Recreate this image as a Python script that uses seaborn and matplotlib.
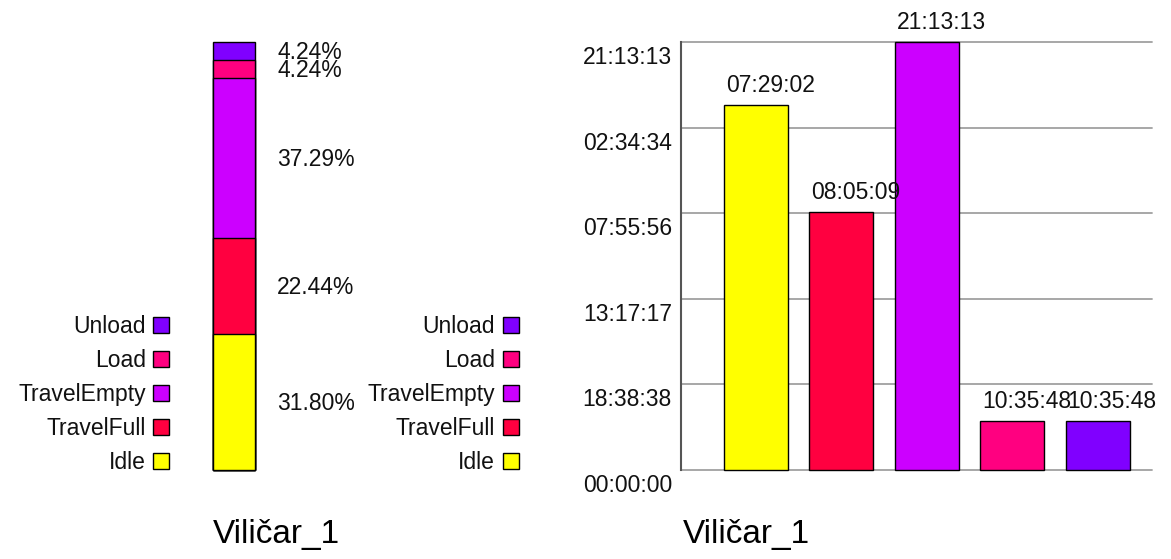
import numpy as np
import pandas as pd
import matplotlib
matplotlib.use("Agg")
import matplotlib.pyplot as plt
import matplotlib.transforms as mtransforms
from matplotlib.patches import Rectangle
import seaborn as sns

# ---- data ----
categories = ["Idle", "TravelFull", "TravelEmpty", "Load", "Unload"]
durations_s = [286142, 201909, 335593, 38148, 38148]   # seconds
colors = ["#FFFF00", "#FF0040", "#CC00FF", "#FF0080", "#8000FF"]
ytick_labels = ["00:00:00", "18:38:38", "13:17:17", "07:55:56", "02:34:34", "21:13:13"]
title = "Viličar_1"

sns.set_theme(style="white")
plt.rcParams["font.family"] = ["Liberation Sans", "DejaVu Sans"]

W, H = 1171, 559
fig = plt.figure(figsize=(W / 100, H / 100), dpi=100)
FS = 16.5


def fx(px):
    return px / W


def fy(py):
    return 1 - py / H


def hms(sec):
    s = int(round(sec)) % 86400
    return f"{s // 3600:02d}:{(s % 3600) // 60:02d}:{s % 60:02d}"


total = sum(durations_s)
pcts = [100 * d / total for d in durations_s]

# ---- left stacked bar ----
axL = fig.add_axes([fx(213), fy(470), fx(255) - fx(213), (470 - 42) / H])
cum = np.cumsum(pcts)
for i in range(len(categories) - 1, -1, -1):
    sns.barplot(x=[title], y=[cum[i]], color=colors[i], saturation=1, width=1,
                edgecolor="black", linewidth=1.0, ax=axL)
for p in axL.patches:
    p.set_clip_on(False)
axL.set_xlim(-0.5, 0.5)
axL.set_ylim(0, cum[-1])
axL.axis("off")

blend = mtransforms.blended_transform_factory(fig.transFigure, axL.transData)
bottoms = np.concatenate([[0], cum[:-1]])
for i, p in enumerate(pcts):
    mid = bottoms[i] + p / 2
    axL.annotate(f"{p:.2f}%", xy=(fx(277), mid), xycoords=blend,
                 xytext=(0, -8), textcoords="offset pixels",
                 ha="left", va="baseline", fontsize=FS, color="#111111",
                 annotation_clip=False)

# ---- right bar chart ----
axR = fig.add_axes([fx(681), fy(470), fx(1152) - fx(681), (470 - 42) / H])
df = pd.DataFrame({"cat": categories, "sec": durations_s})
sns.barplot(data=df, x="cat", y="sec", hue="cat", palette=colors, saturation=1,
            width=0.75, edgecolor="black", linewidth=1.0, legend=False, ax=axR)
for p in axR.patches:
    p.set_clip_on(False)
ymax = max(durations_s)
axR.set_ylim(0, ymax)
axR.set_xlim(-0.877, 4.637)
axR.set_yticks(np.linspace(0, ymax, len(ytick_labels)))
axR.set_yticklabels(ytick_labels, fontsize=FS, color="#111111", va="top")
axR.tick_params(axis="y", length=0, pad=6.5)
axR.set_xticks([])
axR.set_xlabel("")
axR.set_ylabel("")
axR.yaxis.grid(True, color="#a0a0a0", linewidth=1.3)
for gl in axR.get_ygridlines():
    gl.set_clip_on(False)
axR.set_axisbelow(True)
for s in ["top", "right", "bottom"]:
    axR.spines[s].set_visible(False)
axR.spines["left"].set_color("#555555")
axR.spines["left"].set_linewidth(1.5)
for lab in axR.get_yticklabels():
    lab.set_transform(lab.get_transform() + mtransforms.Affine2D().translate(0, -4))

for i, d in enumerate(durations_s):
    axR.annotate(hms(d), xy=(i - 0.375, d), xytext=(2, 13), textcoords="offset pixels",
                 ha="left", va="baseline", fontsize=FS, color="#111111",
                 annotation_clip=False)

# ---- legends (two copies) ----
leg_y = {"Unload": 325, "Load": 359, "TravelEmpty": 393, "TravelFull": 427, "Idle": 461}
for text_right, sq_left in [(146, 153), (495, 503)]:
    for cat, col in zip(categories, colors):
        yc = leg_y[cat]
        fig.patches.append(Rectangle((fx(sq_left), fy(yc + 8)), 16 / W, 16 / H,
                                     transform=fig.transFigure, facecolor=col,
                                     edgecolor="black", linewidth=1.0))
        fig.text(fx(text_right), fy(yc + 8), cat, ha="right", va="baseline",
                 fontsize=FS, color="#111111")

# ---- titles ----
fig.text(fx(276), fy(543), title, ha="center", va="baseline", fontsize=24, color="black")
fig.text(fx(746), fy(543), title, ha="center", va="baseline", fontsize=24, color="black")

fig.savefig("out.png", dpi=100, facecolor="white")
